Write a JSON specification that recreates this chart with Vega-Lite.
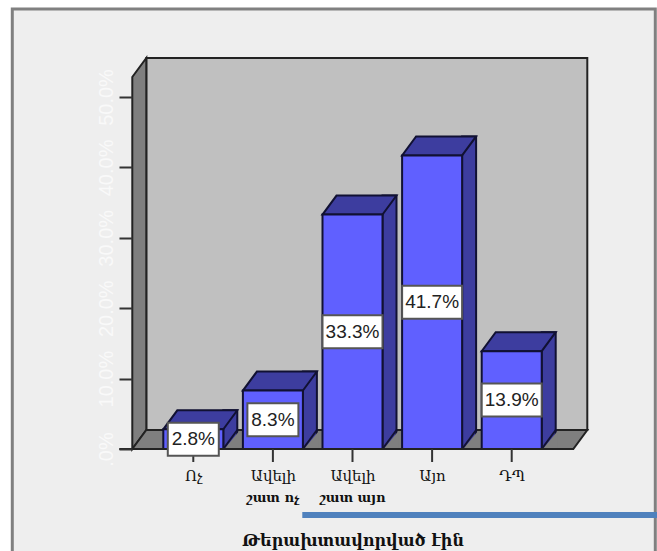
{
  "$schema": "https://vega.github.io/schema/vega-lite/v6.json",
  "width": 441,
  "height": 352,
  "padding": {"left": 132, "top": 97, "right": 84, "bottom": 102},
  "autosize": {"type": "none"},
  "background": "#ffffff",
  "config": {"view": {"stroke": null}},
  "data": {
    "values": [
      {"category": "Ոչ", "second": "", "share": 2.8, "label": "2.8%"},
      {"category": "Ավելի|1", "second": "շատ ոչ", "share": 8.3, "label": "8.3%"},
      {"category": "Ավելի|2", "second": "շատ այո", "share": 33.3, "label": "33.3%"},
      {"category": "Այո", "second": "", "share": 41.7, "label": "41.7%"},
      {"category": "ԴՊ", "second": "", "share": 13.9, "label": "13.9%"}
    ]
  },
  "encoding": {
    "x": {
      "field": "category",
      "type": "nominal",
      "sort": null,
      "title": "Թերախտավորված էին",
      "scale": {"type": "point", "padding": 0.77, "domain": ["Ոչ", "Ավելի|1", "Ավելի|2", "Այո", "ԴՊ"]},
      "axis": {
        "zindex": 1,
        "domain": false,
        "ticks": false,
        "labelAngle": 0,
        "labelPadding": 19,
        "labelFont": "DejaVu Serif",
        "labelFontSize": 15,
        "labelColor": "#111111",
        "labelExpr": "split(datum.label, '|')[0]",
        "titleFont": "DejaVu Serif",
        "titleFontSize": 16,
        "titleColor": "#111111",
        "titleFontWeight": "bold",
        "titlePadding": 49
      }
    },
    "y": {
      "field": "share",
      "type": "quantitative",
      "title": null,
      "scale": {"domain": [0, 50], "nice": false},
      "axis": {
        "zindex": 1,
        "domain": false,
        "grid": false,
        "values": [0, 10, 20, 30, 40, 50],
        "tickSize": 13,
        "tickWidth": 2,
        "tickColor": "#333333",
        "labelAngle": -90,
        "labelPadding": 3,
        "labelFont": "Liberation Sans",
        "labelFontSize": 20,
        "labelColor": "#f9f9f9",
        "labelExpr": "datum.value === 0 ? '.0%' : format(datum.value, '.1f') + '%'"
      }
    }
  },
  "layer": [
    {
      "description": "Frame of the chart panel",
      "transform": [{"filter": "datum.category === 'Ոչ'"}],
      "mark": {"type": "point", "shape": "M-181,-440H462V110H-181Z", "size": 4, "filled": true, "fill": "#eeeeee", "stroke": "#808080", "strokeWidth": 3, "opacity": 1},
      "encoding": {"y": {"datum": 0}}
    },
    {
      "description": "Accent rule under the category labels",
      "transform": [{"filter": "datum.category === 'Ոչ'"}],
      "mark": {"type": "point", "shape": "M109,63H470V69H109Z", "size": 4, "filled": true, "fill": "#4f81bd", "opacity": 1},
      "encoding": {"y": {"datum": 0}}
    },
    {
      "description": "Back wall",
      "transform": [{"filter": "datum.category === 'Ոչ'"}],
      "mark": {"type": "point", "shape": "M-47,-391H394V-19H-47Z", "size": 4, "filled": true, "fill": "#c0c0c0", "stroke": "#222222", "strokeWidth": 2, "opacity": 1},
      "encoding": {"y": {"datum": 0}}
    },
    {
      "description": "Side wall",
      "transform": [{"filter": "datum.category === 'Ոչ'"}],
      "mark": {"type": "point", "shape": "M-61,0V-372L-47,-391V-19Z", "size": 4, "filled": true, "fill": "#7f7f7f", "stroke": "#222222", "strokeWidth": 2, "opacity": 1},
      "encoding": {"y": {"datum": 0}}
    },
    {
      "description": "Floor",
      "transform": [{"filter": "datum.category === 'Ոչ'"}],
      "mark": {"type": "point", "shape": "M-61,0L-47,-19H394L380,0Z", "size": 4, "filled": true, "fill": "#7f7f7f", "stroke": "#222222", "strokeWidth": 2, "opacity": 1},
      "encoding": {"y": {"datum": 0}}
    },
    {
      "description": "Side face of each column",
      "mark": {"type": "bar", "size": 14, "xOffset": 37, "yOffset": -19, "fill": "#3d3d9f", "stroke": "#111133", "strokeWidth": 2},
      "encoding": {"y2": {"datum": 0}}
    },
    {
      "description": "Floor showing below the slanted foot of the side face",
      "mark": {"type": "point", "shape": "M31,0L46,-18V1H31Z", "size": 4, "filled": true, "fill": "#7f7f7f", "opacity": 1},
      "encoding": {"y": {"datum": 0}}
    },
    {
      "description": "Slanted foot of the side face",
      "mark": {"type": "point", "shape": "M30,0L44,-19", "size": 4, "filled": false, "stroke": "#111133", "strokeWidth": 2, "opacity": 1},
      "encoding": {"y": {"datum": 0}}
    },
    {
      "description": "Top face of each column",
      "mark": {"type": "point", "shape": "M-30,0H30L44,-19H-16Z", "size": 4, "filled": true, "fill": "#3d3d9f", "stroke": "#111133", "strokeWidth": 2, "opacity": 1}
    },
    {
      "description": "Front face of each column",
      "mark": {"type": "bar", "size": 60, "fill": "#6060ff", "stroke": "#111133", "strokeWidth": 2},
      "encoding": {"y2": {"datum": 0}}
    },
    {
      "description": "Baseline",
      "transform": [{"filter": "datum.category === 'Ոչ'"}],
      "mark": {"type": "point", "shape": "M-74,0H380", "size": 4, "filled": false, "stroke": "#222222", "strokeWidth": 2, "opacity": 1},
      "encoding": {"y": {"datum": 0}}
    },
    {
      "description": "Category ticks",
      "mark": {"type": "point", "shape": "M0,0V13", "size": 4, "filled": false, "stroke": "#333333", "strokeWidth": 2, "opacity": 1},
      "encoding": {"y": {"datum": 0}}
    },
    {
      "description": "Second line of the long category labels",
      "mark": {"type": "text", "font": "DejaVu Serif", "fontSize": 13, "fontWeight": "bold", "dy": 49, "fill": "#111111"},
      "encoding": {"y": {"datum": 0}, "text": {"field": "second"}}
    },
    {
      "description": "Narrow value boxes on the short columns",
      "transform": [{"filter": "datum.share < 10"}, {"calculate": "datum.share / 2", "as": "middle"}],
      "mark": {"type": "rect", "width": 51, "height": 33, "fill": "#ffffff", "stroke": "#555555", "strokeWidth": 2},
      "encoding": {"y": {"field": "middle", "type": "quantitative"}}
    },
    {
      "description": "Value boxes as wide as the taller columns",
      "transform": [{"filter": "datum.share >= 10"}, {"calculate": "datum.share / 2", "as": "middle"}],
      "mark": {"type": "rect", "width": 60, "height": 33, "fill": "#ffffff", "stroke": "#555555", "strokeWidth": 2},
      "encoding": {"y": {"field": "middle", "type": "quantitative"}}
    },
    {
      "description": "Value labels centred on their columns",
      "transform": [{"calculate": "datum.share / 2", "as": "middle"}],
      "mark": {"type": "text", "font": "Liberation Sans", "fontSize": 19, "fill": "#222222"},
      "encoding": {"y": {"field": "middle", "type": "quantitative"}, "text": {"field": "label"}}
    }
  ]
}
